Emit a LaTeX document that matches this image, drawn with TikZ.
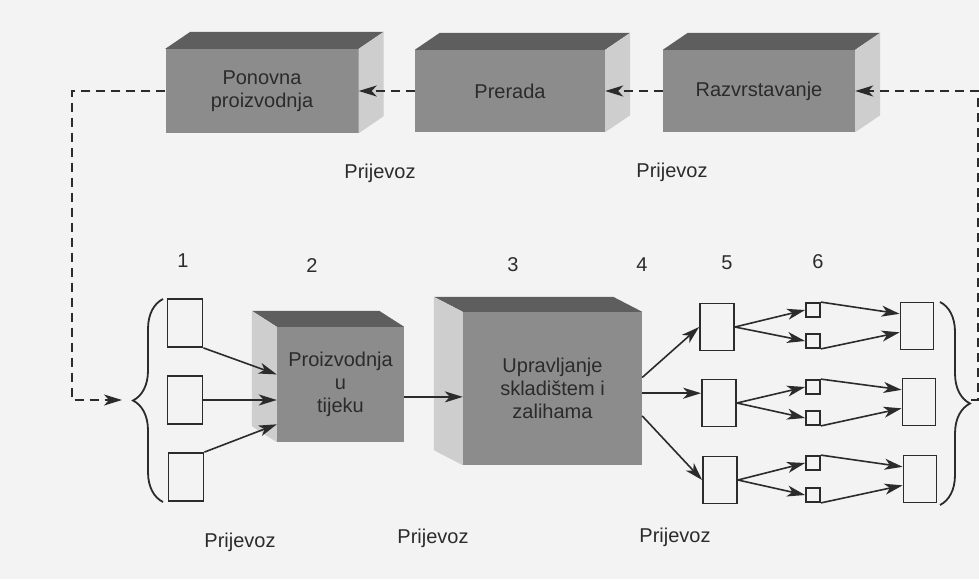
\documentclass[tikz,border=0pt]{standalone}
\usepackage{fontspec}
\setmainfont{Liberation Sans}
\usetikzlibrary{arrows.meta,calc,decorations.pathreplacing}

\definecolor{paper}{HTML}{F3F3F3}
\definecolor{frontgray}{HTML}{8C8C8C}
\definecolor{topgray}{HTML}{5E5E5E}
\definecolor{sidegray}{HTML}{CECECE}
\definecolor{ink}{HTML}{2B2B2B}

\begin{document}
\begin{tikzpicture}[x=1pt,y=-1pt,>={Stealth[length=18pt,width=11pt,inset=5pt]},
    every node/.style={font=\fontsize{20}{23}\selectfont,text=ink},
    block/.style={fill=frontgray,inner sep=0pt,align=center},
    slot/.style={draw=ink,line width=1.8pt,inner sep=0pt},
    flow/.style={->,color=ink,line width=1.6pt},
    back/.style={->,draw=ink,line width=1.8pt,dash pattern=on 9pt off 6pt},
    brc/.style={draw=ink,line width=1.8pt,decorate,decoration={brace,amplitude=30pt}}]
    \useasboundingbox (0,0) rectangle (979,579);
    \fill[paper] (0,0) rectangle (979,579);

    % return line
    \node[block,minimum width=193pt,minimum height=84pt] (pp) at (262,91) {Ponovna\\proizvodnja};
    \node[block,minimum width=190pt,minimum height=82pt] (pr) at (510,91) {Prerada};
    \node[block,minimum width=192pt,minimum height=82pt] (rz) at (759,91) {Razvrstavanje};
    \foreach \b in {pp,pr,rz}{
        \fill[topgray] (\b.north west) -- ++(25,-17) -- ($(\b.north east)+(25,-17)$) -- (\b.north east) -- cycle;
        \fill[sidegray] (\b.north east) -- ++(25,-17) -- ($(\b.south east)+(25,-17)$) -- (\b.south east) -- cycle;
    }

    % forward line
    \node[block,minimum width=127pt,minimum height=115pt] (pu) at (340.5,384.5) {Proizvodnja\\u\\tijeku};
    \node[block,minimum width=179pt,minimum height=153pt] (us) at (552.5,388.5) {Upravljanje\\skladištem i\\zalihama};
    \foreach \b/\dx/\dy in {pu/-25/-16,us/-29/-15}{
        \fill[topgray] (\b.north east) -- ++(\dx,\dy) -- ($(\b.north west)+(\dx,\dy)$) -- (\b.north west) -- cycle;
        \fill[sidegray] (\b.north west) -- ++(\dx,\dy) -- ($(\b.south west)+(\dx,\dy)$) -- (\b.south west) -- cycle;
    }

    \node[slot,minimum width=35pt,minimum height=48pt] (in1) at (185,323) {};
    \node[slot,minimum width=35pt,minimum height=48pt] (in2) at (185,400) {};
    \node[slot,minimum width=35pt,minimum height=48pt] (in3) at (186,477) {};
    \node[slot,minimum width=34pt,minimum height=47pt] (out1) at (717,327) {};
    \node[slot,minimum width=34pt,minimum height=47pt] (out2) at (719,403) {};
    \node[slot,minimum width=34pt,minimum height=47pt] (out3) at (720,480) {};
    \foreach \n/\y in {1/310,2/341,3/387,4/418,5/463,6/495}
        \node[slot,minimum size=14pt] (mid\n) at (813,\y) {};
    \node[slot,minimum width=33pt,minimum height=47pt] (end1) at (917,326) {};
    \node[slot,minimum width=33pt,minimum height=47pt] (end2) at (919,402) {};
    \node[slot,minimum width=33pt,minimum height=47pt] (end3) at (920,479) {};

    \draw[brc] (163,502) -- (163,299);
    \draw[brc] (940,302) -- (940,505);
    \coordinate (lb) at (122,400);
    \coordinate (lbend) at (72,400);
    \coordinate (rb) at (971,400);
    \coordinate (rbend) at (978,400);

    \node (n1) at (183,261) {1};
    \node (n2) at (312,266) {2};
    \node (n3) at (513,265) {3};
    \node (n4) at (642,265) {4};
    \node (n5) at (727,263) {5};
    \node (n6) at (818,262) {6};

    \node (t1) at (380,173) {Prijevoz};
    \node (t2) at (672,172) {Prijevoz};
    \node (t3) at (240,542) {Prijevoz};
    \node (t4) at (433,538) {Prijevoz};
    \node (t5) at (675,537) {Prijevoz};

    \path[flow]
        (in1.south east) edge (pu.171)
        (in2.east) edge (in2.east -| pu.west)
        (in3.north east) edge (pu.212)
        (pu.349) edge (pu.349 -| us.west)
        (us.7) edge (out1.west)
        (us.357) edge (us.357 -| out2.west)
        (us.343) edge (out3.west)
        (out1.east) edge (mid1.west)
                    edge (mid2.west)
        (out2.east) edge (mid3.west)
                    edge (mid4.west)
        (out3.east) edge (mid5.west)
                    edge (mid6.west)
        (mid1.north east) edge (end1.145)
        (mid2.south east) edge (end1.200)
        (mid3.north east) edge (end2.145)
        (mid4.south east) edge (end2.200)
        (mid5.north east) edge (end3.145)
        (mid6.south east) edge (end3.200)
        ;

    \draw[back] (rb) -- (rbend) |- (rz.east);
    \draw[back] (rz.west) -- (pr.east);
    \draw[back] (pr.west) -- (pp.east);
    \draw[back] (pp.west) -| (lbend) -- (lb);
\end{tikzpicture}
\end{document}
